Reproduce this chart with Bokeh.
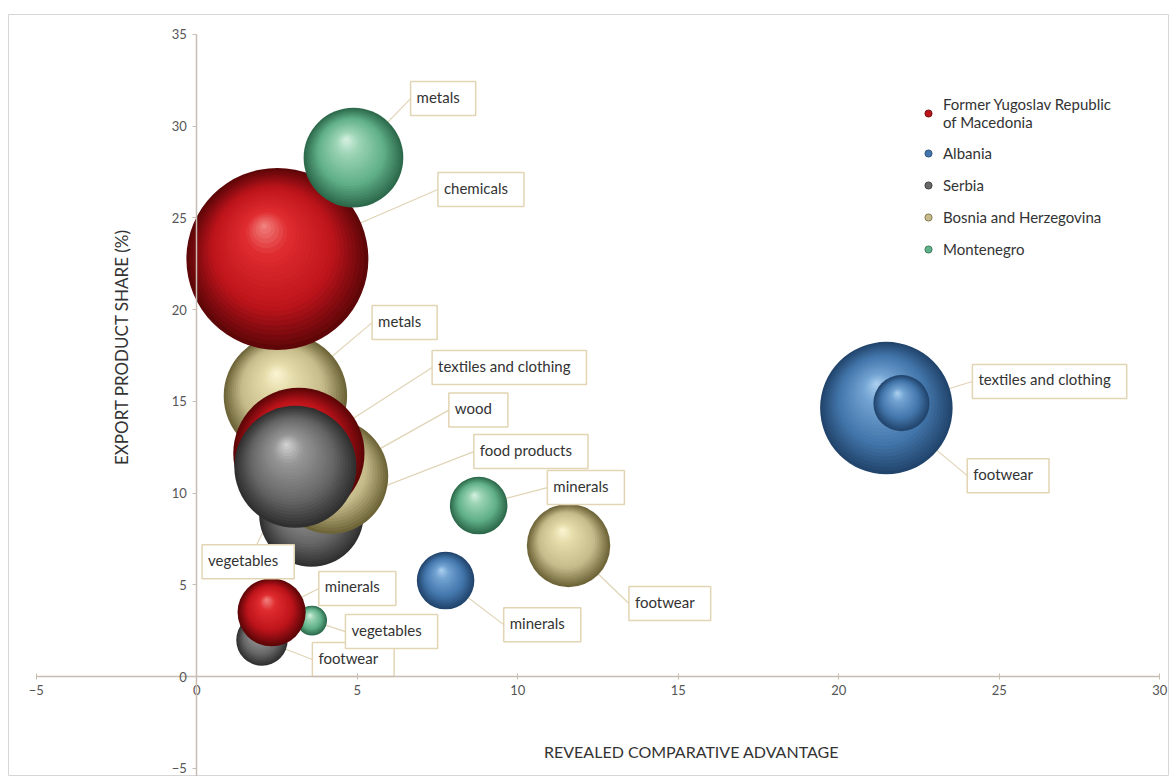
import math
from bokeh.plotting import figure
from bokeh.models import ColumnDataSource, FixedTicker, Range1d, Label, Legend, LegendItem
from bokeh.core.properties import value, field
from bokeh.embed import file_html
from bokeh.resources import INLINE

# ---------------- data ----------------
country_codes = ["MKD", "ALB", "SRB", "BIH", "MNE"]
country_names = ["Former Yugoslav Republic\nof Macedonia", "Albania", "Serbia",
                 "Bosnia and Herzegovina", "Montenegro"]

# one entry per bubble, listed back to front (drawing order)
bubble_country = ["BIH", "MKD", "MNE", "SRB", "BIH", "MKD", "SRB", "SRB", "MNE", "MKD",
                  "ALB", "ALB", "ALB", "MNE", "BIH"]
bubble_product = ["metals", "chemicals", "metals", "food products", "wood",
                  "textiles and clothing", "vegetables", "footwear", "vegetables", "minerals",
                  "footwear", "textiles and clothing", "minerals", "minerals", "footwear"]
rca = [2.76, 2.51, 4.88, 3.57, 4.17, 3.18, 3.07, 2.03, 3.59, 2.33,
       21.48, 21.95, 7.75, 8.78, 11.58]
export_share = [15.3, 22.76, 28.28, 8.83, 10.91, 12.16, 11.43, 1.99, 3.05, 3.50,
                14.63, 14.9, 5.23, 9.32, 7.14]
bubble_size = [46, 100, 30, 33, 40, 52, 45, 8, 2.7, 14, 53, 9.5, 10, 10, 21]

# callout box anchors (data coordinates: box left edge / centre, vertical middle)
label_x = [5.46, 7.51, 6.66, 8.63, 7.85, 7.33, 1.60, 3.60, 4.63, 3.80,
           24.00, 24.16, 9.56, 10.92, 13.46]
label_y = [19.29, 26.54, 31.50, 12.26, 14.52, 16.84, 6.26, 0.93, 2.45, 4.80,
           10.95, 16.08, 2.83, 10.30, 3.98]
label_align = ["left"] * 6 + ["center"] + ["left"] * 8

x_ticks = [-5, 0, 5, 10, 15, 20, 25, 30]
y_ticks = [-5, 0, 5, 10, 15, 20, 25, 30, 35]

x_title = "REVEALED COMPARATIVE ADVANTAGE"
y_title = "EXPORT PRODUCT SHARE (%)"

# ---------------- styles ----------------
palette = {  # edge, base, light, highlight
    "MKD": ["#5e0608", "#bd141b", "#e02d31", "#f28a86"],
    "ALB": ["#22456d", "#4376ab", "#72a3d2", "#b0d3f1"],
    "SRB": ["#303030", "#686868", "#979797", "#d8d8d8"],
    "BIH": ["#6e6539", "#c6bb8a", "#e6dcab", "#fcf7d6"],
    "MNE": ["#2d6a4b", "#60b089", "#9cd4b5", "#dbf3e6"],
}
stop_pos = [0.0, 0.32, 0.75, 1.0]
bubble_scale = 9.1          # px radius per sqrt(size)
hl_dir = (-0.15, 0.37)      # highlight offset (fraction of radius, x right / y up)
n_layers = 26

W, H = 1169, 776
left_border, top_border = 8, 14
x_range = Range1d(-5.866, 30.30)
y_range = Range1d(-5.446, 36.08)
px_x = (W - left_border) / (x_range.end - x_range.start)
px_y = (H - top_border) / (y_range.end - y_range.start)

FONT = "Lato"


def hex2rgb(h):
    h = h.lstrip("#")
    return tuple(int(h[i:i + 2], 16) for i in (0, 2, 4))


def ramp(colors, f):
    for k in range(len(stop_pos) - 1):
        a, b = stop_pos[k], stop_pos[k + 1]
        if f <= b or k == len(stop_pos) - 2:
            t = min(max((f - a) / (b - a), 0), 1)
            c1, c2 = hex2rgb(colors[k]), hex2rgb(colors[k + 1])
            return "#%02x%02x%02x" % tuple(int(round(c1[j] + (c2[j] - c1[j]) * t)) for j in range(3))


p = figure(width=W, height=H, x_range=x_range, y_range=y_range,
           output_backend="svg", toolbar_location=None,
           min_border_left=left_border, min_border_right=0,
           min_border_top=top_border, min_border_bottom=0)
p.grid.visible = False
p.outline_line_color = "#d6d6d6"
p.background_fill_color = "white"
p.border_fill_color = "white"

# axes crossing at the origin
axis_col = "#c8bdb3"
p.xaxis.fixed_location = 0
p.yaxis.fixed_location = 0
p.xaxis.ticker = FixedTicker(ticks=x_ticks)
p.yaxis.ticker = FixedTicker(ticks=y_ticks)
p.xaxis.bounds = (x_ticks[0], x_ticks[-1])
p.yaxis.bounds = (y_range.start, y_ticks[-1])
for ax in (p.xaxis[0], p.yaxis[0]):
    ax.axis_line_color = axis_col
    ax.axis_line_width = 1.5
    ax.major_tick_line_color = axis_col
    ax.minor_tick_line_color = None
    ax.major_label_text_font = FONT
    ax.major_label_text_font_size = "13px"
    ax.major_label_text_color = "#555555"
p.xaxis.major_tick_in = 3
p.xaxis.major_tick_out = 3
p.xaxis.major_label_standoff = 5
p.yaxis.major_tick_in = 0
p.yaxis.major_tick_out = 4
p.yaxis.major_label_standoff = 6

# connectors (drawn beneath bubbles)
p.segment(x0=rca, y0=export_share, x1=label_x, y1=label_y,
          line_color="#e0d4b6", line_width=1.2)

# shaded bubbles: stacked circles forming a radial gradient
lay = dict(x=[], y=[], r=[], c=[])
for i in range(len(rca)):
    R = bubble_scale * math.sqrt(bubble_size[i])
    cols = palette[bubble_country[i]]
    for t in range(n_layers):
        f = 0.97 * t / (n_layers - 1)
        lay["x"].append(rca[i] + f * hl_dir[0] * R / px_x)
        lay["y"].append(export_share[i] + f * hl_dir[1] * R / px_y)
        lay["r"].append(R * (1 - f))
        lay["c"].append(ramp(cols, f))
p.circle(x="x", y="y", radius="r", radius_units="screen", fill_color="c",
         line_color=None, source=ColumnDataSource(lay))

# callout labels
lab_src = ColumnDataSource(dict(x=label_x, y=label_y, text=bubble_product, align=label_align))
p.text(x="x", y="y", text="text", source=lab_src, text_align=field("align"),
       text_baseline="middle", text_font=value(FONT), text_font_size="15px",
       text_color="#333333", background_fill_color="white",
       border_line_color="#e2d5b3", border_line_width=1.5, padding=(6, 16, 6, 10))

# axis titles
p.add_layout(Label(x=15.41, y=-4.09, text=x_title, text_align="center",
                   text_baseline="middle", text_font=FONT, text_font_size="16px",
                   text_color="#333333"))
p.add_layout(Label(x=-2.35, y=17.96, text=y_title, angle=math.pi / 2, text_align="center",
                   text_baseline="middle", text_font=FONT, text_font_size="17px",
                   text_color="#333333"))

# legend (proxy renderers holding a single undrawn point)
items = []
for code, name in zip(country_codes, country_names):
    r = p.scatter(x=[float("nan")], y=[float("nan")], marker="circle",
                  fill_color=palette[code][1], line_color=palette[code][0], line_width=0.8)
    items.append(LegendItem(label=name, renderers=[r]))
legend = Legend(items=items, location=(911, 517), orientation="vertical",
                glyph_width=18, glyph_height=18, label_height=20, spacing=12,
                label_standoff=6, padding=0, margin=0, border_line_color=None,
                background_fill_alpha=0, label_text_font=FONT,
                label_text_font_size="15px", label_text_color="#333333")
p.add_layout(legend)

open("out.html", "w").write(file_html(p, INLINE))
